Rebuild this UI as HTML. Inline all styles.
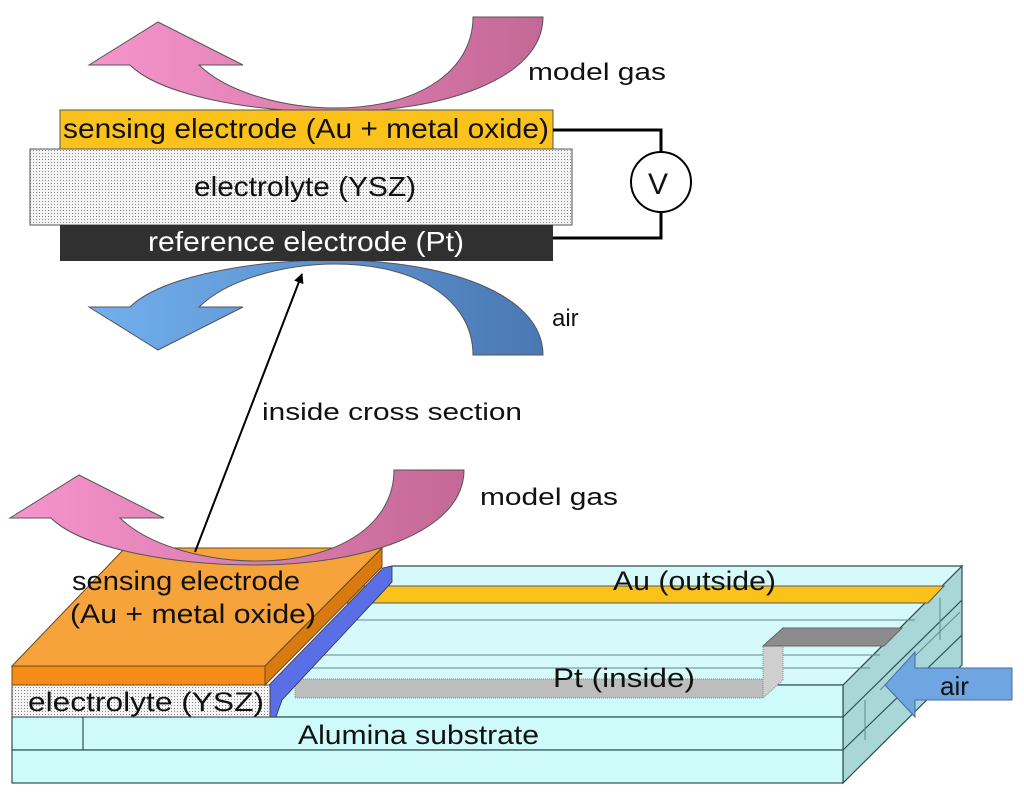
<!DOCTYPE html>
<html><head><meta charset="utf-8"><style>
html,body{margin:0;padding:0;background:#fff}
svg{display:block}
text{font-family:"Liberation Sans",Arial,sans-serif;fill:#111}
</style></head><body>
<svg width="1024" height="796" viewBox="0 0 1024 796" xmlns="http://www.w3.org/2000/svg">
<defs>
<pattern id="dots" width="3" height="3" patternUnits="userSpaceOnUse">
<rect width="3" height="3" fill="#f4f4f4"/><rect width="1" height="1" fill="#888"/>
</pattern>
<linearGradient id="pink" x1="0" x2="1" y1="0" y2="0">
<stop offset="0" stop-color="#f695cc"/><stop offset="1" stop-color="#c46896"/>
</linearGradient>
<linearGradient id="blue" x1="0" x2="1" y1="0" y2="0">
<stop offset="0" stop-color="#72b0ee"/><stop offset="1" stop-color="#4a78b4"/>
</linearGradient>
<marker id="ah" markerWidth="10" markerHeight="10" refX="9" refY="5" orient="auto" markerUnits="userSpaceOnUse">
<path d="M0,0 L10,5 L0,10 z" fill="#000"/>
</marker>
<path id="arr" d="M473,17 L543,17 C543,80 440,112 335,112 C250,112 160,95 130,65 L89,65 L158,22 L243,65 L199,65 C230,95 290,108 335,108 C420,108 473,70 473,17 Z"/>
</defs>

<use href="#arr" fill="url(#pink)" stroke="#555" stroke-width="1"/>
<use href="#arr" fill="url(#blue)" stroke="#555" stroke-width="1" transform="translate(0,372) scale(1,-1)"/>

<text x="528" y="80" font-size="24" textLength="138" lengthAdjust="spacingAndGlyphs">model gas</text>
<text x="552" y="326" font-size="24">air</text>

<rect x="60" y="110" width="493" height="39" fill="#fbc21c" stroke="#555"/>
<text x="63" y="138" font-size="28" textLength="486" lengthAdjust="spacingAndGlyphs">sensing electrode (Au + metal oxide)</text>
<rect x="30" y="149" width="542" height="76" fill="url(#dots)" stroke="#555"/>
<text x="194" y="196" font-size="28" textLength="222" lengthAdjust="spacingAndGlyphs">electrolyte (YSZ)</text>
<rect x="60" y="225" width="493" height="36" fill="#303030"/>
<text x="148" y="251" font-size="28" style="fill:#fff" textLength="316" lengthAdjust="spacingAndGlyphs">reference electrode (Pt)</text>

<polyline points="553,130 661,130 661,152" fill="none" stroke="#000" stroke-width="3"/>
<polyline points="661,212 661,238 553,238" fill="none" stroke="#000" stroke-width="3"/>
<circle cx="661" cy="182" r="30" fill="#fff" stroke="#000" stroke-width="2"/>
<text x="648" y="194" font-size="30">V</text>

<text x="262" y="420" font-size="24" textLength="260" lengthAdjust="spacingAndGlyphs">inside cross section</text>

<g stroke="#2f4f4f" stroke-width="1.2">
<polygon points="843,685 962,566 962,665 843,783" fill="#a9d6d6"/>
<line x1="843" y1="717" x2="962" y2="600"/>
<line x1="843" y1="750" x2="962" y2="635"/>
<polygon points="275,685 392,566 962,566 843,685" fill="#d6fafa"/>
<rect x="275" y="685" width="568" height="32" fill="#cffafa"/>
<rect x="12" y="717" width="831" height="33" fill="#cffafa"/>
<rect x="12" y="750" width="831" height="33" fill="#cffafa"/>
<line x1="83" y1="717" x2="83" y2="750"/>
</g>
<g stroke="#5c8c8c" stroke-width="1">
<line x1="372" y1="586" x2="945" y2="586"/>
<line x1="340" y1="620" x2="915" y2="620"/>
<line x1="310" y1="655" x2="880" y2="655"/>
<line x1="297" y1="668" x2="870" y2="668"/>
<line x1="940" y1="598" x2="940" y2="640"/>
<line x1="865" y1="700" x2="865" y2="740"/>
<line x1="880" y1="690" x2="960" y2="612"/>
</g>
<polygon points="355,586 944,586 928,603 340,603" fill="#fbc21c" stroke="#555" stroke-width="1"/>
<rect x="295" y="679" width="468" height="19" fill="#bdbdbd" stroke="#888" stroke-dasharray="1,1"/>
<polygon points="763,646 783,628 783,680 763,698" fill="#cfcfcf" stroke="#888" stroke-dasharray="1,1"/>
<polygon points="763,646 783,628 902,628 884,646" fill="#8c8c8c" stroke="#666"/>

<polygon points="268,686 383,568 392,566 392,582 282,700 276,717 270,717" fill="#5a6ee6" stroke="#334" stroke-width="0.8"/>
<rect x="12" y="685" width="258" height="32" fill="url(#dots)" stroke="#444"/>
<polygon points="12,666 125,548 382,548 265,666" fill="#f5a33a" stroke="#6a4a20"/>
<rect x="12" y="666" width="253" height="19" fill="#f58c16" stroke="#6a4a20"/>
<polygon points="265,666 382,548 382,567 265,685" fill="#d87a10" stroke="#6a4a20"/>

<use href="#arr" fill="url(#pink)" stroke="#555" stroke-width="1" transform="translate(-79,453)"/>
<text x="480" y="505" font-size="24" textLength="138" lengthAdjust="spacingAndGlyphs">model gas</text>

<line x1="195" y1="552" x2="302" y2="274" stroke="#000" stroke-width="2" marker-end="url(#ah)"/>

<text x="72" y="590" font-size="27" textLength="228" lengthAdjust="spacingAndGlyphs">sensing electrode</text>
<text x="70" y="623" font-size="27" textLength="246" lengthAdjust="spacingAndGlyphs">(Au + metal oxide)</text>
<text x="613" y="590" font-size="27" textLength="163" lengthAdjust="spacingAndGlyphs">Au (outside)</text>
<text x="553" y="687" font-size="27" textLength="142" lengthAdjust="spacingAndGlyphs">Pt  (inside)</text>
<text x="28" y="711" font-size="27" textLength="236" lengthAdjust="spacingAndGlyphs">electrolyte (YSZ)</text>
<text x="298" y="744" font-size="27" textLength="241" lengthAdjust="spacingAndGlyphs">Alumina substrate</text>

<polygon points="885,685 915,652 915,668 1012,668 1012,700 915,700 915,717" fill="#6fa6e2" stroke="#4a6a9a"/>
<text x="940" y="695" font-size="26">air</text>
</svg>
</body></html>
